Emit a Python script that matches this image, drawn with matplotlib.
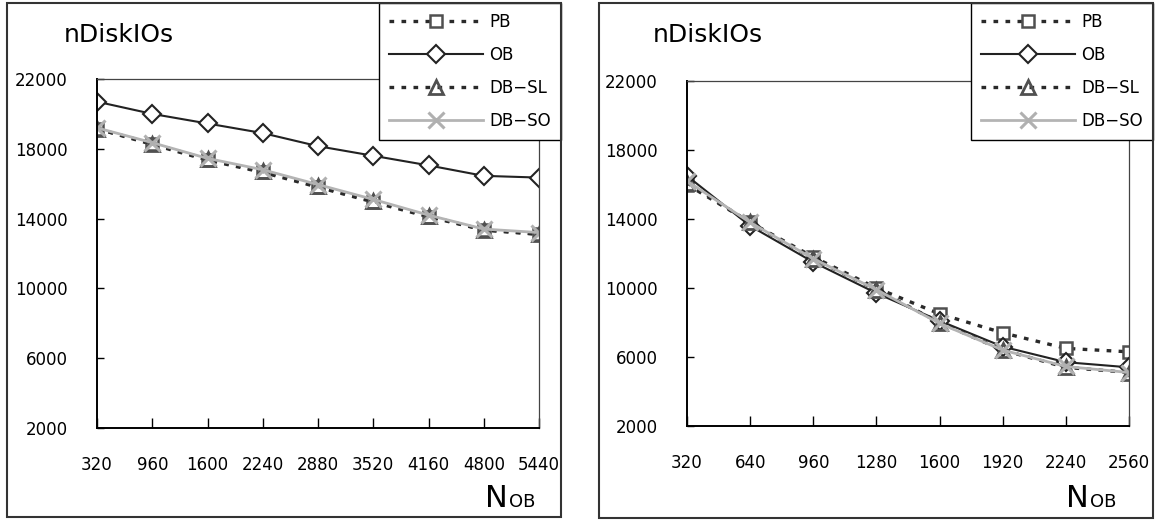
import matplotlib
matplotlib.use("Agg")
import matplotlib.pyplot as plt
from matplotlib.patches import Rectangle

plt.rcParams['font.family'] = ['DejaVu Sans']

# left chart: N_OB from 320 to 5440
n_ob_a = [320, 960, 1600, 2240, 2880, 3520, 4160, 4800, 5440]
pb_a = [19150, 18250, 17350, 16650, 15800, 14950, 14100, 13350, 13100]
ob_a = [20700, 20000, 19450, 18900, 18150, 17600, 17050, 16450, 16350]
dbsl_a = [19150, 18300, 17400, 16700, 15850, 15000, 14150, 13350, 13100]
dbso_a = [19200, 18350, 17450, 16800, 15950, 15100, 14200, 13400, 13200]

# right chart: N_OB from 320 to 2560
n_ob_b = [320, 640, 960, 1280, 1600, 1920, 2240, 2560]
pb_b = [16000, 13800, 11800, 10000, 8500, 7400, 6500, 6300]
ob_b = [16500, 13600, 11500, 9700, 8100, 6600, 5700, 5400]
dbsl_b = [16100, 13800, 11700, 9900, 8000, 6400, 5400, 5100]
dbso_b = [16200, 13800, 11700, 9900, 7950, 6400, 5450, 5100]

y_ticks = [2000, 6000, 10000, 14000, 18000, 22000]
series_names = ["PB", "OB", "DB\u2212SL", "DB\u2212SO"]

W, H = 1156, 520
fig = plt.figure(figsize=(W / 100, H / 100), dpi=100)


def fx(x):
    return x / W


def fy(y):
    return 1 - y / H


def draw_panel(box, axrect, xs, pb, ob, dbsl, dbso, title_x, nob_end):
    # outer frame of the panel
    x0, y0, x1, y1 = box
    fig.patches.append(Rectangle((fx(x0), fy(y1)), fx(x1 - x0), (y1 - y0) / H,
                                 transform=fig.transFigure, fill=False,
                                 edgecolor="#333333", linewidth=1.5))

    l, t, r, b = axrect
    ax = fig.add_axes([fx(l), fy(b), fx(r - l), (b - t) / H])

    ax.plot(xs, pb, linestyle=(0, (1.4, 2.2)), color="#2a2a2a", linewidth=2.4,
            marker="s", markersize=9, markeredgecolor="#505050",
            markerfacecolor="white", markeredgewidth=1.8, label=series_names[0])
    ax.plot(xs, ob, linestyle="-", color="#222222", linewidth=1.5,
            marker="D", markersize=9.5, markeredgecolor="#222222",
            markerfacecolor="white", markeredgewidth=1.5, label=series_names[1])
    ax.plot(xs, dbsl, linestyle=(0, (1.4, 2.2)), color="#2a2a2a", linewidth=2.4,
            marker="^", markersize=10, markeredgecolor="#505050",
            markerfacecolor="none", markeredgewidth=2.0, label=series_names[2])
    ax.plot(xs, dbso, linestyle="-", color="#b4b4b4", linewidth=2.0,
            marker="x", markersize=11, markeredgecolor="#b0b0b0",
            markeredgewidth=2.2, label=series_names[3])

    ax.set_xlim(xs[0], xs[-1])
    ax.set_ylim(y_ticks[0], y_ticks[-1])
    ax.set_xticks(xs)
    ax.set_xticklabels([str(v) for v in xs])
    ax.set_yticks(y_ticks)
    ax.set_yticklabels([str(v) for v in y_ticks])
    ax.tick_params(axis="x", direction="in", length=7, width=1, pad=20,
                   labelsize=12, colors="black")
    ax.tick_params(axis="y", direction="in", length=5, width=1, pad=21,
                   labelsize=12, colors="black")

    for side in ("left", "bottom"):
        ax.spines[side].set_color("black")
        ax.spines[side].set_linewidth(1.4)
    for side in ("top", "right"):
        ax.spines[side].set_color("#444444")
        ax.spines[side].set_linewidth(0.9)

    leg = ax.legend(loc="upper right", bbox_to_anchor=(fx(x1), fy(y0)),
                    bbox_transform=fig.transFigure, borderaxespad=0,
                    fancybox=False, framealpha=1, edgecolor="black",
                    fontsize=12, handlelength=5.6, handletextpad=0.4,
                    labelspacing=0.9, borderpad=0.6)
    leg.get_frame().set_linewidth(1.0)

    fig.text(fx(title_x), fy(42), "nDiskIOs", fontsize=18, va="baseline",
             ha="left")
    fig.text(fx(nob_end), fy(507), "OB", fontsize=13, va="baseline",
             ha="right")
    fig.text(fx(nob_end - 27), fy(507), "N", fontsize=22, va="baseline",
             ha="right")
    return ax


draw_panel((7, 3, 561, 517), (97, 79, 539, 428),
           n_ob_a, pb_a, ob_a, dbsl_a, dbso_a, 64, 535)
draw_panel((599, 3, 1153, 518), (687, 81, 1129, 426),
           n_ob_b, pb_b, ob_b, dbsl_b, dbso_b, 653, 1116)

fig.savefig("out.png", dpi=100)
